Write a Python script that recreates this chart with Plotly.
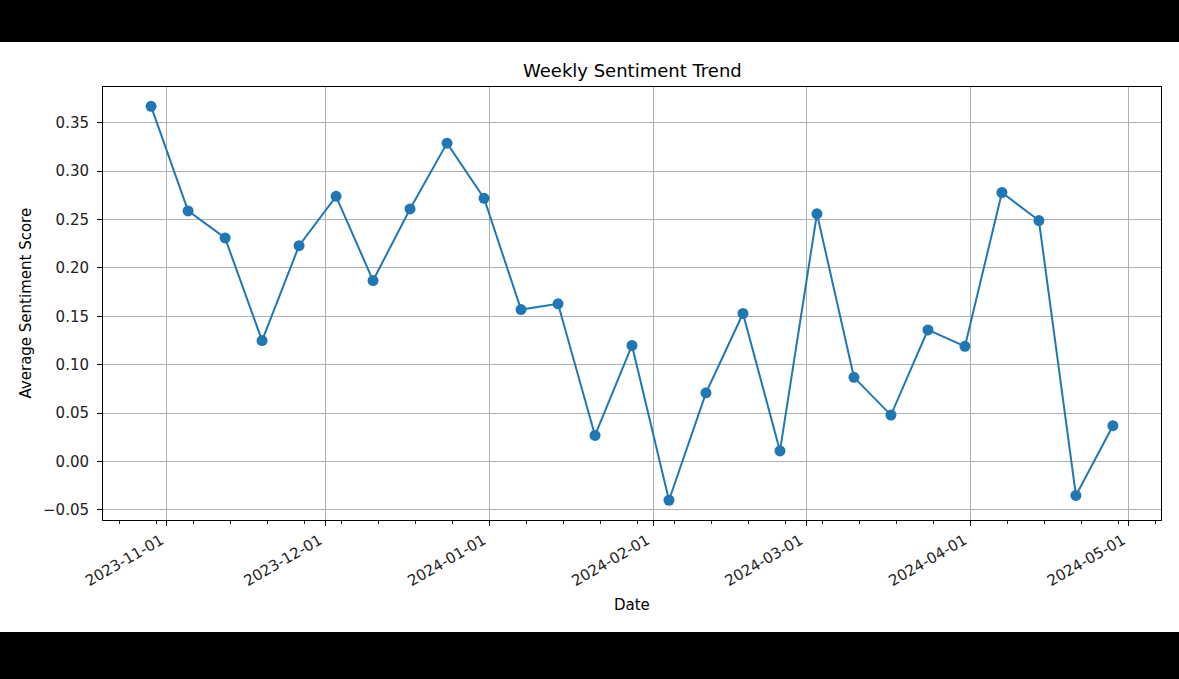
import pandas as pd
import plotly.graph_objects as go

# weekly dates (Sundays) and average sentiment per week
weeks = pd.date_range("2023-10-29", "2024-04-28", freq="7D")
scores = [0.367, 0.259, 0.231, 0.125, 0.223, 0.274, 0.187, 0.261, 0.329,
          0.272, 0.157, 0.163, 0.027, 0.120, -0.040, 0.071, 0.153, 0.011,
          0.256, 0.087, 0.048, 0.136, 0.119, 0.278, 0.249, -0.035, 0.037]

fig = go.Figure()
fig.add_trace(go.Scatter(
    x=weeks, y=scores,
    mode="lines+markers",
    line=dict(color="#1f77b4", width=2),
    marker=dict(color="#1f77b4", size=11),
    showlegend=False,
))

axis_common = dict(
    showline=True, linecolor="black", linewidth=1, mirror=True,
    showgrid=True, gridcolor="#b0b0b0", gridwidth=1,
    ticks="outside", ticklen=5, tickcolor="black",
    tickfont=dict(family="DejaVu Sans", size=15, color="#222"),
    zeroline=False,
)

fig.update_xaxes(
    range=["2023-10-19 21:36", "2024-05-07 02:24"],
    tick0="2023-11-01", dtick="M1", tickformat="%Y-%m-%d",
    tickangle=-30, ticklabelshift=-6,
    minor=dict(tick0="2023-10-30", dtick=7 * 86400000, ticks="outside",
               ticklen=3, tickcolor="black", showgrid=False),
    **axis_common,
)
fig.update_yaxes(
    range=[-0.0604, 0.387], dtick=0.05, tickformat=".2f",
    ticklabelstandoff=5,
    **axis_common,
)

fig.update_layout(
    width=1179, height=679,
    margin=dict(l=103, r=18, t=87, b=159),
    paper_bgcolor="black", plot_bgcolor="white",
    font=dict(family="DejaVu Sans", color="#222"),
    shapes=[dict(type="rect", xref="paper", yref="paper",
                 x0=-0.2, x1=1.2, y0=-0.2587, y1=1.1039,
                 fillcolor="white", line=dict(width=0), layer="below")],
    annotations=[
        dict(text="Weekly Sentiment Trend", xref="paper", yref="paper",
             x=0.5, y=1.039, yanchor="middle", showarrow=False,
             font=dict(size=18, color="black")),
        dict(text="Date", xref="paper", yref="paper",
             x=0.5, y=-0.196, yanchor="middle", showarrow=False,
             font=dict(size=15, color="black")),
        dict(text="Average Sentiment Score", xref="paper", yref="paper",
             x=-0.0737, y=0.5, xanchor="center", yanchor="middle",
             textangle=-90, showarrow=False,
             font=dict(size=15, color="black")),
    ],
)

# the page body has a default margin; drop it so the figure sits at 0,0
fig.write_html("out.html", config={"displayModeBar": False},
               post_script="document.body.style.margin='0';")
